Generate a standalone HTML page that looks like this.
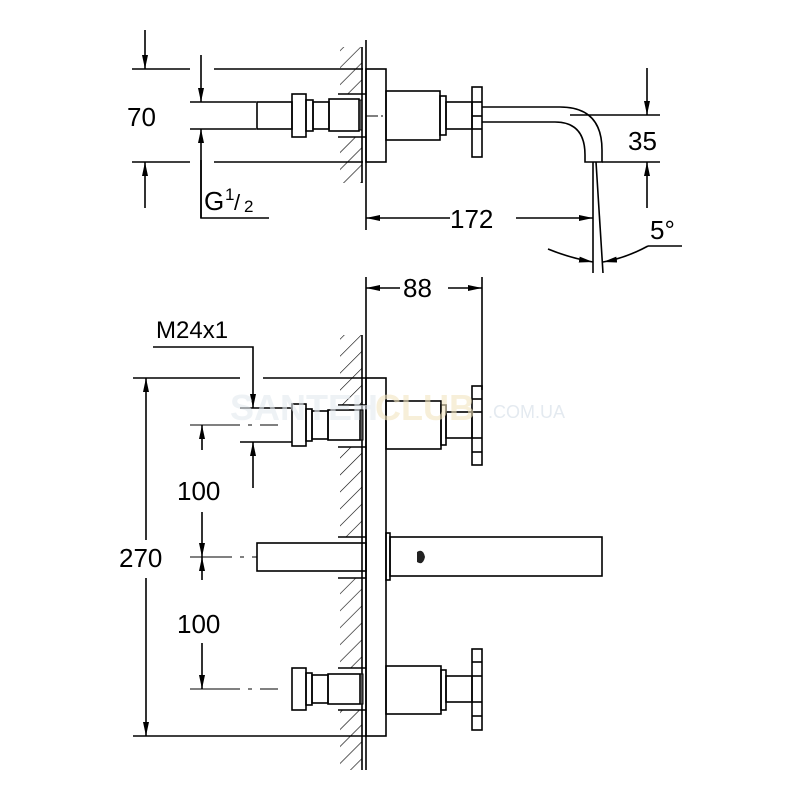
<!DOCTYPE html>
<html><head><meta charset="utf-8"><style>
html,body{margin:0;padding:0;background:#fff}
svg{display:block}
text{font-family:"Liberation Sans",Arial,sans-serif;fill:#000}
</style></head><body>
<svg width="800" height="800" viewBox="0 0 800 800" xmlns="http://www.w3.org/2000/svg">
<defs>
<pattern id="h" width="12" height="12" patternUnits="userSpaceOnUse" patternTransform="rotate(45)">
<line x1="0" y1="0" x2="0" y2="12" stroke="#000" stroke-width="1.2"/>
</pattern>
<marker id="a" viewBox="0 0 14 6" refX="14" refY="3" markerWidth="14" markerHeight="6" markerUnits="userSpaceOnUse" orient="auto">
<path d="M0,0 L14,3 L0,6 Z" fill="#000"/>
</marker>
</defs>
<g fill="none" stroke="#000" stroke-width="1.6">
<!-- ===== TOP VIEW ===== -->
<rect x="340" y="47" width="22" height="47" fill="url(#h)" stroke="none"/>
<rect x="340" y="137" width="22" height="46" fill="url(#h)" stroke="none"/>
<line x1="362" y1="47" x2="362" y2="183"/>
<line x1="366" y1="40" x2="366" y2="230"/>
<line x1="338" y1="94" x2="366" y2="94"/>
<line x1="338" y1="137" x2="366" y2="137"/>
<line x1="132" y1="69" x2="190" y2="69"/>
<line x1="214" y1="69" x2="363" y2="69"/>
<line x1="132" y1="162" x2="190" y2="162"/>
<line x1="214" y1="162" x2="363" y2="162"/>
<line x1="145" y1="30" x2="145" y2="69" marker-end="url(#a)"/>
<line x1="145" y1="208" x2="145" y2="162" marker-end="url(#a)"/>
<line x1="190" y1="102" x2="256" y2="102"/>
<line x1="190" y1="129" x2="256" y2="129"/>
<line x1="201" y1="55" x2="201" y2="102" marker-end="url(#a)"/>
<polyline points="201,218 201,129" marker-end="url(#a)"/>
<polyline points="201,160 201,218 269,218"/>
<rect x="257" y="102" width="35" height="27"/>
<rect x="292" y="94" width="14" height="43"/>
<rect x="306" y="100" width="7" height="31"/>
<rect x="313" y="102" width="16" height="27"/>
<rect x="329" y="99" width="30" height="32"/>
<rect x="359" y="100" width="3" height="30" fill="#555" stroke-width="1"/>
<rect x="366" y="69" width="20" height="93"/>
<line x1="366" y1="116" x2="386" y2="116" stroke-dasharray="12,3,2,3" stroke-width="1"/>
<rect x="386" y="91" width="54" height="49"/>
<rect x="440" y="96" width="6" height="39"/>
<rect x="446" y="102" width="26" height="27"/>
<rect x="472" y="87" width="10" height="70"/>
<line x1="472" y1="102" x2="482" y2="102"/>
<line x1="472" y1="116" x2="482" y2="116"/>
<line x1="472" y1="129" x2="482" y2="129"/>
<path d="M482,107 L560,107 Q602,107 602,150 L602,162 L585,162 L585,155 Q585,122 555,122 L482,122"/>
<line x1="593" y1="162" x2="593" y2="273"/>
<line x1="596" y1="162" x2="603" y2="273"/>
<line x1="450" y1="218" x2="366" y2="218" marker-end="url(#a)"/>
<line x1="516" y1="218" x2="593" y2="218" marker-end="url(#a)"/>
<line x1="570" y1="115" x2="660" y2="115"/>
<line x1="602" y1="162" x2="660" y2="162"/>
<line x1="647" y1="68" x2="647" y2="115" marker-end="url(#a)"/>
<line x1="647" y1="208" x2="647" y2="162" marker-end="url(#a)"/>
<path d="M548,249 Q570,258 593,262" marker-end="url(#a)"/>
<path d="M648,246 Q626,258 603,262" marker-end="url(#a)"/>
<line x1="648" y1="246" x2="682" y2="246"/>

<!-- ===== BOTTOM VIEW ===== -->
<rect x="340" y="335" width="22" height="70" fill="url(#h)" stroke="none"/>
<rect x="340" y="447" width="22" height="90" fill="url(#h)" stroke="none"/>
<rect x="340" y="578" width="22" height="90" fill="url(#h)" stroke="none"/>
<rect x="340" y="710" width="22" height="60" fill="url(#h)" stroke="none"/>
<line x1="362" y1="335" x2="362" y2="770"/>
<line x1="338" y1="405" x2="366" y2="405"/>
<line x1="338" y1="447" x2="366" y2="447"/>
<line x1="338" y1="537" x2="366" y2="537"/>
<line x1="338" y1="578" x2="366" y2="578"/>
<line x1="338" y1="668" x2="366" y2="668"/>
<line x1="338" y1="710" x2="366" y2="710"/>
<line x1="366" y1="277" x2="366" y2="770"/>
<line x1="482" y1="277" x2="482" y2="390"/>
<line x1="400" y1="288" x2="366" y2="288" marker-end="url(#a)"/>
<line x1="448" y1="288" x2="482" y2="288" marker-end="url(#a)"/>
<polyline points="153,347 253,347 253,408" marker-end="url(#a)"/>
<line x1="133" y1="378" x2="240" y2="378"/>
<line x1="263" y1="378" x2="366" y2="378"/>
<line x1="133" y1="736" x2="366" y2="736"/>
<line x1="146" y1="540" x2="146" y2="378" marker-end="url(#a)"/>
<line x1="146" y1="578" x2="146" y2="736" marker-end="url(#a)"/>
<rect x="366" y="378" width="20" height="358"/>
<line x1="240" y1="408" x2="292" y2="408"/>
<line x1="240" y1="442" x2="292" y2="442"/>
<line x1="190" y1="425" x2="287" y2="425" stroke-dasharray="50,8,4,8,18" stroke-width="1"/>
<rect x="292" y="404" width="14" height="42"/>
<rect x="306" y="409" width="6" height="32"/>
<rect x="312" y="411" width="16" height="28"/>
<rect x="328" y="410" width="32" height="30"/>
<rect x="360" y="410" width="3" height="30" fill="#555" stroke-width="1"/>
<rect x="386" y="401" width="55" height="48"/>
<rect x="441" y="405" width="5" height="40"/>
<rect x="446" y="412" width="26" height="26"/>
<rect x="472" y="386" width="10" height="79"/>
<line x1="472" y1="399" x2="482" y2="399"/><line x1="472" y1="412" x2="482" y2="412"/>
<line x1="472" y1="438" x2="482" y2="438"/><line x1="472" y1="452" x2="482" y2="452"/>
<line x1="253" y1="488" x2="253" y2="442" marker-end="url(#a)"/>
<line x1="202" y1="450" x2="202" y2="425" marker-end="url(#a)"/>
<line x1="202" y1="512" x2="202" y2="557" marker-end="url(#a)"/>
<line x1="202" y1="580" x2="202" y2="557" marker-end="url(#a)"/>
<line x1="202" y1="643" x2="202" y2="689" marker-end="url(#a)"/>
<line x1="190" y1="557" x2="257" y2="557" stroke-dasharray="42,8,4,8" stroke-width="1"/>
<rect x="257" y="543" width="109" height="28"/>
<rect x="386" y="533" width="4" height="47"/>
<rect x="390" y="537" width="212" height="39"/>
<line x1="190" y1="689" x2="292" y2="689" stroke-dasharray="50,8,4,8,18" stroke-width="1"/>
<rect x="292" y="668" width="14" height="42"/>
<rect x="306" y="673" width="6" height="32"/>
<rect x="312" y="675" width="16" height="28"/>
<rect x="328" y="674" width="32" height="30"/>
<rect x="360" y="674" width="3" height="30" fill="#555" stroke-width="1"/>
<rect x="386" y="666" width="55" height="48"/>
<rect x="441" y="670" width="5" height="40"/>
<rect x="446" y="676" width="26" height="26"/>
<rect x="472" y="649" width="10" height="81"/>
<line x1="472" y1="662" x2="482" y2="662"/><line x1="472" y1="676" x2="482" y2="676"/>
<line x1="472" y1="702" x2="482" y2="702"/><line x1="472" y1="716" x2="482" y2="716"/>
</g>
<path d="M417,552 q6,-4 8,5 q-2,9 -8,5z" fill="#222"/>
<g font-size="26">
<text x="127" y="126">70</text>
<text x="204" y="210">G</text>
<text x="225" y="200" font-size="17">1</text>
<text x="234" y="210" font-size="22">/</text>
<text x="244" y="212" font-size="17">2</text>
<text x="450" y="228">172</text>
<text x="628" y="150">35</text>
<text x="650" y="239">5°</text>
<text x="403" y="297">88</text>
<text x="156" y="338" font-size="24">M24x1</text>
<text x="177" y="500">100</text>
<text x="119" y="567">270</text>
<text x="177" y="633">100</text>
</g>
<text x="230" y="420" font-size="36" style="fill:#e4eaf0;font-weight:bold" opacity="0.6">SANTEH</text>
<text x="375" y="420" font-size="36" style="fill:#f3e6c0;font-weight:bold" opacity="0.6">CLUB</text>
<text x="488" y="418" font-size="18" style="fill:#e4eaf0">.COM.UA</text>
</svg>
</body></html>
